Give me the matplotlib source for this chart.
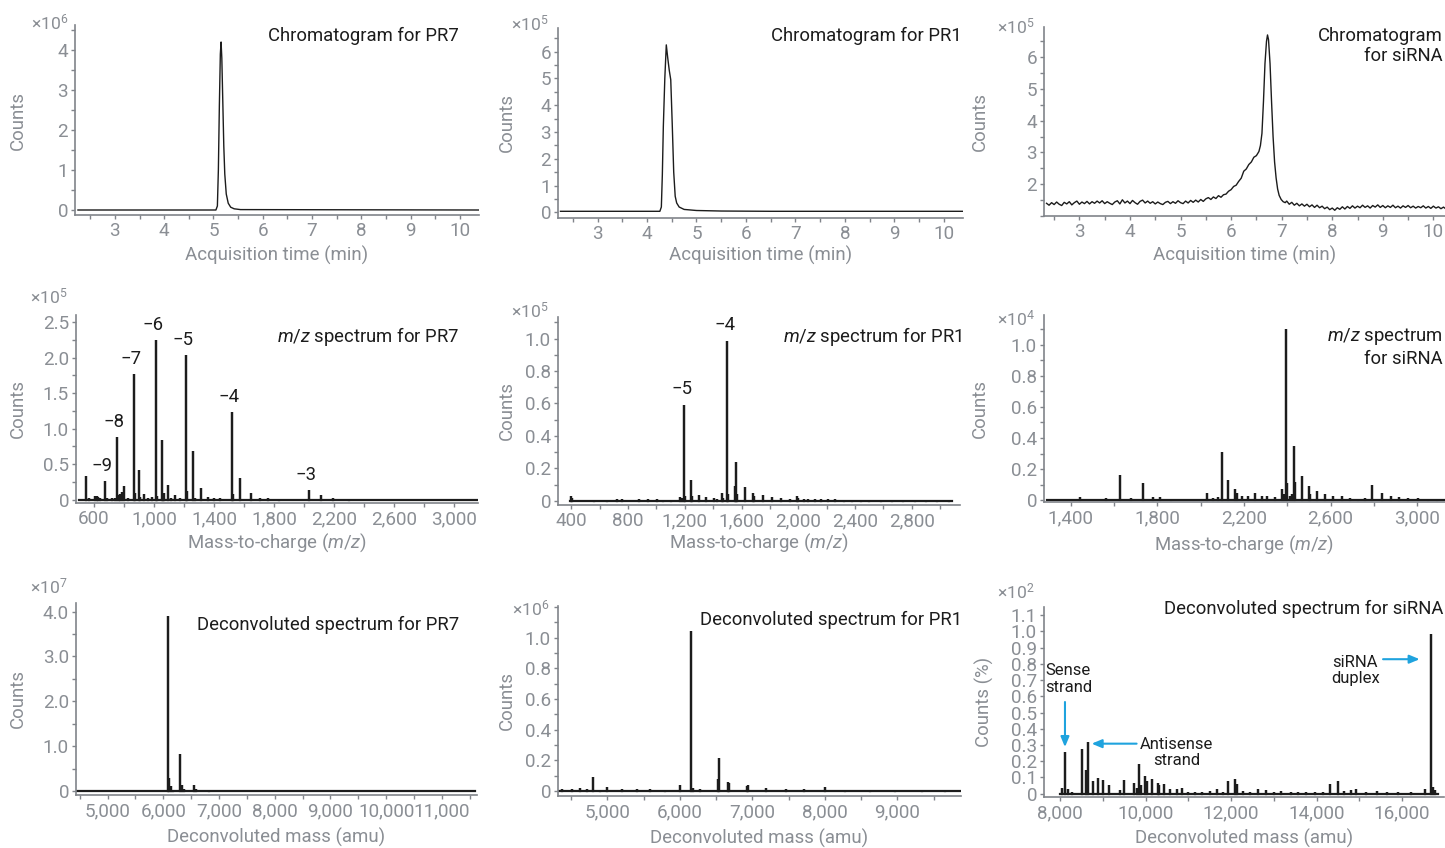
import numpy as np
import matplotlib
matplotlib.use("Agg")
import matplotlib.pyplot as plt
from matplotlib.ticker import MultipleLocator, FixedLocator, FuncFormatter

# ---------------- data ----------------
# chromatograms, counts in units of the axis multiplier
pr7_time = [2.25, 5.05, 5.08, 5.10, 5.12, 5.14, 5.155, 5.17, 5.19, 5.21, 5.23, 5.26, 5.30, 5.35, 5.42, 5.55, 10.4]
pr7_counts = [0, 0, 0.1, 1.0, 2.6, 3.9, 4.2, 3.8, 2.7, 1.6, 0.9, 0.4, 0.17, 0.07, 0.03, 0.01, 0]

pr1_time = [2.25, 4.26, 4.29, 4.31, 4.33, 4.36, 4.39, 4.42, 4.45, 4.48, 4.51, 4.54, 4.57, 4.60, 4.65, 4.75, 5.0, 5.5, 6.5, 10.4]
pr1_counts = [0.04, 0.04, 0.2, 1.4, 3.2, 5.0, 6.25, 5.75, 5.3, 4.95, 3.3, 1.5, 0.6, 0.35, 0.2, 0.11, 0.07, 0.05, 0.04, 0.04]

sirna_time = [2.35, 2.40, 2.45, 2.50, 2.55, 2.60, 2.65, 2.70, 2.75, 2.80, 2.85, 2.90, 2.95, 3.00, 3.05, 3.10,
              3.15, 3.20, 3.25, 3.30, 3.35, 3.40, 3.45, 3.50, 3.55, 3.60, 3.65, 3.70, 3.75, 3.80, 3.85, 3.90,
              3.95, 4.00, 4.05, 4.10, 4.15, 4.20, 4.25, 4.30, 4.35, 4.40, 4.45, 4.50, 4.55, 4.60, 4.65, 4.70,
              4.75, 4.80, 4.85, 4.90, 4.95, 5.00, 5.05, 5.10, 5.15, 5.20, 5.25, 5.30, 5.35, 5.40, 5.45, 5.50,
              5.55, 5.60, 5.65, 5.70, 5.75, 5.80, 5.85, 5.90, 5.95, 6.00, 6.05, 6.10, 6.15, 6.20, 6.25, 6.30,
              6.35, 6.40, 6.45, 6.50, 6.55, 6.58, 6.61, 6.64, 6.67, 6.70, 6.72, 6.74, 6.77, 6.80, 6.83, 6.86,
              6.89, 6.92, 6.95, 6.99, 7.03, 7.07,
              7.10, 7.15, 7.20, 7.25, 7.30, 7.35, 7.40, 7.45, 7.50, 7.55, 7.60, 7.65, 7.70, 7.75, 7.80, 7.85,
              7.90, 7.95, 8.00, 8.05, 8.10, 8.15, 8.20, 8.25, 8.30, 8.35, 8.40, 8.45, 8.50, 8.55, 8.60, 8.65,
              8.70, 8.75, 8.80, 8.85, 8.90, 8.95, 9.00, 9.05, 9.10, 9.15, 9.20, 9.25, 9.30, 9.35, 9.40, 9.45,
              9.50, 9.55, 9.60, 9.65, 9.70, 9.75, 9.80, 9.85, 9.90, 9.95, 10.00, 10.05, 10.10, 10.15, 10.20,
              10.25, 10.30]
sirna_counts = [1.40, 1.34, 1.42, 1.36, 1.44, 1.37, 1.33, 1.43, 1.38, 1.45, 1.35, 1.42, 1.47, 1.37, 1.44, 1.39,
                1.46, 1.38, 1.45, 1.40, 1.47, 1.41, 1.48, 1.39, 1.45, 1.40, 1.36, 1.44, 1.48, 1.38, 1.51, 1.41,
                1.47, 1.39, 1.49, 1.42, 1.37, 1.46, 1.50, 1.41, 1.47, 1.40, 1.45, 1.38, 1.44, 1.39, 1.36, 1.43,
                1.46, 1.39, 1.45, 1.40, 1.48, 1.42, 1.39, 1.47, 1.41, 1.49, 1.43, 1.50, 1.44, 1.52, 1.46, 1.54,
                1.58, 1.52, 1.60, 1.55, 1.64, 1.59, 1.67, 1.69, 1.78, 1.83, 1.93, 1.97, 2.09, 2.19, 2.41, 2.48,
                2.62, 2.70, 2.85, 2.90, 3.03, 3.22, 3.60, 4.60, 5.80, 6.50, 6.70, 6.55, 5.80, 4.60, 3.50, 2.70,
                2.20, 1.85, 1.65, 1.52, 1.45, 1.42,
                1.47, 1.37, 1.43, 1.34, 1.40, 1.32, 1.38, 1.31, 1.37, 1.29, 1.35, 1.27, 1.34, 1.26, 1.31, 1.23,
                1.28, 1.20, 1.25, 1.18, 1.26, 1.21, 1.29, 1.22, 1.30, 1.24, 1.32, 1.25, 1.31, 1.26, 1.34, 1.27,
                1.32, 1.25, 1.33, 1.28, 1.35, 1.27, 1.33, 1.26, 1.32, 1.27, 1.34, 1.26, 1.31, 1.25, 1.32, 1.27,
                1.33, 1.26, 1.31, 1.25, 1.30, 1.26, 1.32, 1.25, 1.30, 1.24, 1.31, 1.25, 1.29, 1.23, 1.28,
                1.22, 1.27]

# m/z spectra (peak centre, height)
pr7_mz = [548, 570, 610, 618, 628, 640, 674, 690, 720, 740, 756, 764, 774, 787, 800, 830, 865, 872, 898, 910,
          936, 960, 985, 1011, 1020, 1051, 1060, 1069, 1091, 1115, 1140, 1170, 1213, 1222, 1262, 1272, 1313,
          1361, 1400, 1440, 1519, 1528, 1576, 1643, 1705, 1760, 1830, 2031, 2109, 2193, 2300]
pr7_mz_counts = [0.34, 0.02, 0.05, 0.045, 0.04, 0.03, 0.26, 0.03, 0.02, 0.03, 0.88, 0.06, 0.08, 0.11, 0.19, 0.03,
                 1.77, 0.10, 0.42, 0.04, 0.08, 0.03, 0.04, 2.25, 0.05, 0.84, 0.06, 0.09, 0.20, 0.03, 0.06, 0.02,
                 2.03, 0.12, 0.68, 0.03, 0.17, 0.04, 0.02, 0.02, 1.24, 0.08, 0.30, 0.09, 0.03, 0.02, 0.01, 0.13,
                 0.07, 0.03, 0.01]
pr7_mz_span = [500, 3150]
pr7_charges = ["\u22129", "\u22128", "\u22127", "\u22126", "\u22125", "\u22124", "\u22123"]
pr7_charge_mz = [674, 756, 865, 1011, 1213, 1519, 2031]

pr1_mz = [399, 405, 560, 650, 723, 760, 880, 940, 1004, 1050, 1100, 1168, 1180, 1197, 1205, 1246, 1252, 1297,
          1351, 1403, 1430, 1462, 1470, 1497, 1505, 1553, 1560, 1567, 1621, 1627, 1684, 1690, 1748, 1813, 1877,
          1942, 1994, 2000, 2040, 2071, 2120, 2160, 2210, 2260, 2320, 2380, 2440, 2500, 2580, 2660, 2740, 2820,
          2900, 2980, 3060]
pr1_mz_counts = [0.03, 0.015, 0.005, 0.006, 0.012, 0.008, 0.008, 0.008, 0.012, 0.006, 0.006, 0.025, 0.015, 0.59,
                 0.03, 0.13, 0.03, 0.035, 0.022, 0.015, 0.012, 0.05, 0.02, 0.985, 0.04, 0.09, 0.24, 0.04, 0.082,
                 0.05, 0.045, 0.03, 0.035, 0.022, 0.016, 0.012, 0.03, 0.02, 0.012, 0.012, 0.01, 0.01, 0.008, 0.008,
                 0.007, 0.007, 0.007, 0.006, 0.006, 0.006, 0.005, 0.005, 0.005, 0.005, 0.005]
pr1_mz_span = [395, 3080]
pr1_charges = ["\u22125", "\u22124"]
pr1_charge_mz = [1197, 1497]

sirna_mz = [1443, 1563, 1628, 1677, 1732, 1782, 1812, 1863, 1950, 2031, 2058, 2082, 2097, 2128, 2158, 2166, 2189,
            2220, 2251, 2282, 2305, 2343, 2374, 2386, 2394, 2400, 2412, 2420, 2431, 2435, 2466, 2469, 2502, 2506,
            2538, 2574, 2612, 2651, 2689, 2728, 2758, 2792, 2835, 2877, 2917, 2958, 3002, 3048, 3089]
sirna_mz_counts = [0.02, 0.013, 0.16, 0.017, 0.11, 0.02, 0.02, 0.007, 0.005, 0.05, 0.012, 0.02, 0.31, 0.13, 0.07,
                   0.05, 0.03, 0.03, 0.05, 0.025, 0.025, 0.02, 0.075, 0.04, 1.10, 0.11, 0.03, 0.04, 0.35, 0.12,
                   0.155, 0.065, 0.09, 0.04, 0.058, 0.043, 0.026, 0.026, 0.017, 0.01, 0.012, 0.10, 0.047, 0.03,
                   0.024, 0.017, 0.012, 0.01, 0.01]
sirna_mz_span = [1290, 3128]

# deconvoluted spectra
pr7_mass = [4700, 5200, 5600, 6076, 6106, 6130, 6178, 6303, 6333, 6369, 6555, 6584, 6824, 7300, 7900, 8400, 8800,
            9100, 9400, 9600, 9900, 10150, 10400, 10800, 11100, 11300]
pr7_mass_counts = [0.005, 0.005, 0.005, 3.90, 0.28, 0.10, 0.03, 0.82, 0.13, 0.04, 0.13, 0.04, 0.015, 0.006, 0.006,
                   0.006, 0.008, 0.008, 0.01, 0.008, 0.008, 0.008, 0.01, 0.008, 0.01, 0.008]
pr7_mass_span = [4450, 11600]

pr1_mass = [4375, 4513, 4618, 4720, 4802, 4903, 4995, 5202, 5409, 5593, 5800, 6007, 6159, 6177, 6274, 6522, 6540,
            6660, 6678, 6926, 6936, 7193, 7460, 7708, 8002, 8283, 8628, 8972, 9340, 9662]
pr1_mass_counts = [0.01, 0.015, 0.02, 0.01, 0.09, 0.005, 0.025, 0.015, 0.01, 0.01, 0.008, 0.038, 1.045, 0.02, 0.01,
                   0.08, 0.215, 0.06, 0.05, 0.035, 0.04, 0.018, 0.015, 0.015, 0.025, 0.008, 0.006, 0.005, 0.006,
                   0.006]
pr1_mass_span = [4340, 9860]

sirna_mass = [8047, 8109, 8172, 8281, 8499, 8600, 8639, 8756, 8873, 8990, 9138, 9396, 9489, 9723, 9786, 9840, 9879,
              9981, 10020, 10136, 10277, 10316, 10425, 10565, 10721, 10838, 11000, 11150, 11322, 11501, 11673,
              11800, 11930, 12101, 12125, 12281, 12450, 12632, 12827, 13000, 13177, 13400, 13567, 13750, 13957,
              14150, 14308, 14503, 14650, 14815, 14932, 15150, 15415, 15650, 15906, 16200, 16530, 16670, 16725,
              16780]
sirna_mass_counts = [0.037, 0.257, 0.031, 0.012, 0.278, 0.148, 0.319, 0.076, 0.099, 0.082, 0.051, 0.025, 0.082,
                     0.066, 0.037, 0.181, 0.05, 0.109, 0.08, 0.093, 0.066, 0.05, 0.058, 0.03, 0.031, 0.037, 0.012,
                     0.01, 0.012, 0.018, 0.03, 0.012, 0.076, 0.093, 0.06, 0.015, 0.012, 0.03, 0.02, 0.012, 0.015,
                     0.012, 0.012, 0.012, 0.012, 0.012, 0.058, 0.076, 0.015, 0.02, 0.027, 0.012, 0.015, 0.01, 0.01,
                     0.01, 0.031, 0.987, 0.041, 0.025]
sirna_mass_span = [8000, 16850]

# ---------------- style ----------------
plt.rcParams["font.family"] = ["Roboto", "DejaVu Sans"]
plt.rcParams["mathtext.fontset"] = "custom"
plt.rcParams["mathtext.rm"] = "Roboto"
plt.rcParams["mathtext.it"] = "Roboto:italic"
plt.rcParams["mathtext.bf"] = "Roboto:bold"

GRAY = "#8a8e94"
SPINE = "#80848a"
INK = "#1c1c1c"
BLUE = "#1fa3de"
TICK_FS = 13.6
LABEL_FS = 13.4
TITLE_FS = 13.3
W, H = 1445, 848

fig = plt.figure(figsize=(W / 100, H / 100), dpi=100)


def panel(box, xlim, ylim, xticks, xminor, yticks, yminor, xdec, ydec,
          xlabel, ylabel, ylabel_x, xlabel_y, mult, mult_xy):
    left, top, right, bottom = box
    ax = fig.add_axes([left / W, 1 - bottom / H, (right - left) / W, (bottom - top) / H])
    ax.set_xlim(xlim)
    ax.set_ylim(ylim)
    for s in ["top", "right"]:
        ax.spines[s].set_visible(False)
    for s in ["left", "bottom"]:
        ax.spines[s].set_color(SPINE)
        ax.spines[s].set_linewidth(1.2)
    ax.xaxis.set_major_locator(FixedLocator(xticks))
    ax.xaxis.set_minor_locator(MultipleLocator(xminor))
    ax.yaxis.set_major_locator(FixedLocator(yticks))
    ax.yaxis.set_minor_locator(MultipleLocator(yminor))
    ax.xaxis.set_major_formatter(FuncFormatter(lambda v, p: "0" if abs(v) < 1e-9 else f"{v:,.{xdec}f}"))
    ax.yaxis.set_major_formatter(FuncFormatter(lambda v, p: "0" if abs(v) < 1e-9 else f"{v:,.{ydec}f}"))
    ax.tick_params(which="both", direction="out", length=3, width=1, color=SPINE,
                   labelcolor=GRAY, labelsize=TICK_FS, pad=2)
    ax.set_xlabel(xlabel, color=GRAY, fontsize=LABEL_FS, va="center")
    ax.set_ylabel(ylabel, color=GRAY, fontsize=LABEL_FS, va="center")
    ax.xaxis.set_label_coords(0.5, -(xlabel_y - bottom) / (bottom - top))
    ax.yaxis.set_label_coords((ylabel_x - left) / (right - left), 0.5)
    fig.text(mult_xy[0] / W, 1 - mult_xy[1] / H, "\u00d710$^{%d}$" % mult, color=GRAY,
             fontsize=TICK_FS - 1, ha="right", va="center")
    return ax


def title(x, y, s):
    fig.text(x / W, 1 - y / H, s, ha="right", va="center", color=INK, fontsize=TITLE_FS,
             multialignment="right", linespacing=1.15)


def sticks(ax, span, pos, hgt):
    order = np.argsort(pos)
    xs, ys = [span[0]], [0]
    for i in order:
        xs += [pos[i], pos[i], pos[i]]
        ys += [0, hgt[i], 0]
    xs.append(span[1])
    ys.append(0)
    ax.plot(xs, ys, color=INK, lw=1.6, solid_joinstyle="miter")


def charges(ax, labels, where, pos, hgt, offset):
    for lbl, x in zip(labels, where):
        h = hgt[pos.index(x)]
        ax.annotate(lbl, xy=(x, h), xytext=offset, textcoords="offset pixels",
                    ha="center", va="center", color=INK, fontsize=TITLE_FS)


time_lbl = "Acquisition time (min)"
mz_lbl = "Mass-to-charge ($m/z$)"
mass_lbl = "Deconvoluted mass (amu)"

# row 1: chromatograms
ax = panel((75, 25, 479, 215), (2.19, 10.39), (-0.125, 4.625), range(3, 11), 0.5, range(0, 5), 0.5, 0, 0,
           time_lbl, "Counts", 18, 255, 6, (68, 22))
ax.plot(pr7_time, pr7_counts, color=INK, lw=1.0)
title(459, 36, "Chromatogram for PR7")

ax = panel((558, 28, 963, 218), (2.2, 10.39), (-0.21, 6.88), range(3, 11), 0.5, range(0, 7), 0.5, 0, 0,
           time_lbl, "Counts", 507, 255, 5, (549, 23))
ax.plot(pr1_time, pr1_counts, color=INK, lw=1.0)
title(962, 36, "Chromatogram for PR1")

ax = panel((1044, 27, 1445, 216), (2.30, 10.23), (1.0, 6.95), range(3, 11), 0.5, range(2, 7), 0.5, 0, 0,
           time_lbl, "Counts", 980, 255, 5, (1035, 26))
ax.plot(sirna_time, sirna_counts, color=INK, lw=1.0)
title(1443, 46, "Chromatogram\nfor siRNA")

# row 2: m/z spectra
ax = panel((76, 315, 478, 503), (481, 3157), (-0.047, 2.60), range(600, 3001, 400), 200,
           [0, 0.5, 1.0, 1.5, 2.0, 2.5], 0.25, 0, 1, mz_lbl, "Counts", 18, 543, 5, (68, 296))
sticks(ax, pr7_mz_span, pr7_mz, pr7_mz_counts)
charges(ax, pr7_charges, pr7_charge_mz, pr7_mz, pr7_mz_counts, (-3, 15))
title(459, 336, "$m/z$ spectrum for PR7")

ax = panel((558, 317, 960, 505), (307, 3139), (-0.026, 1.133), range(400, 2801, 400), 200,
           [0, 0.2, 0.4, 0.6, 0.8, 1.0], 0.1, 0, 1, mz_lbl, "Counts", 507, 543, 5, (549, 310))
sticks(ax, pr1_mz_span, pr1_mz, pr1_mz_counts)
charges(ax, pr1_charges, pr1_charge_mz, pr1_mz, pr1_mz_counts, (-2, 16))
title(962, 336, "$m/z$ spectrum for PR1")

ax = panel((1044, 315, 1445, 502), (1277, 3128), (-0.011, 1.19), range(1400, 3001, 400), 200,
           [0, 0.2, 0.4, 0.6, 0.8, 1.0], 0.1, 0, 1, mz_lbl, "Counts", 980, 545, 4, (1035, 318))
sticks(ax, sirna_mz_span, sirna_mz, sirna_mz_counts)
title(1443, 347, "$m/z$ spectrum\nfor siRNA")

# row 3: deconvoluted spectra
ax = panel((76, 603, 477, 795), (4432, 11631), (-0.09, 4.19), range(5000, 11001, 1000), 500,
           [0, 1.0, 2.0, 3.0, 4.0], 0.5, 0, 1, mass_lbl, "Counts", 18, 837, 7, (68, 586))
sticks(ax, pr7_mass_span, pr7_mass, pr7_mass_counts)
title(459, 625, "Deconvoluted spectrum for PR7")

ax = panel((558, 606, 961, 796), (4320, 9878), (-0.033, 1.207), range(5000, 9001, 1000), 500,
           [0, 0.2, 0.4, 0.6, 0.8, 1.0], 0.1, 0, 1, mass_lbl, "Counts", 507, 838, 6, (549, 608))
sticks(ax, pr1_mass_span, pr1_mass, pr1_mass_counts)
title(962, 620, "Deconvoluted spectrum for PR1")

ax = panel((1044, 607, 1444, 797), (7618, 16983), (-0.021, 1.151), range(8000, 16001, 2000), 1000,
           [round(0.1 * k, 1) for k in range(12)], 0.1, 0, 1, mass_lbl, "Counts (%)", 984, 838, 2, (1035, 591))
sticks(ax, sirna_mass_span, sirna_mass, sirna_mass_counts)
title(1443, 609, "Deconvoluted spectrum for siRNA")

arrow = dict(arrowstyle="-|>,head_width=0.25,head_length=0.6", color=BLUE, lw=1.5, shrinkA=0, shrinkB=0)
ax.annotate("", xy=(8109, 0.287), xytext=(8109, 0.565), arrowprops=arrow)
ax.annotate("", xy=(8733, 0.308), xytext=(9786, 0.308), arrowprops=arrow)
ax.annotate("", xy=(16413, 0.829), xytext=(15556, 0.829), arrowprops=arrow)
ax.text(8190, 0.705, "Sense\nstrand", ha="center", va="center", color=INK, fontsize=12, linespacing=1.15)
ax.text(10729, 0.253, "Antisense\nstrand", ha="center", va="center", color=INK, fontsize=12, linespacing=1.15)
ax.text(14908, 0.759, "siRNA\nduplex", ha="center", va="center", color=INK, fontsize=12, linespacing=1.15)

fig.savefig("out.png", dpi=100)
